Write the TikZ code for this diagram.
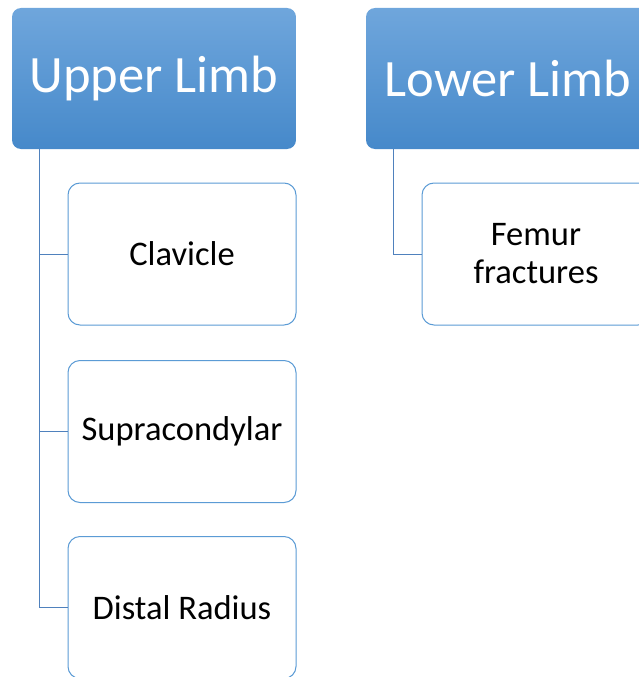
\documentclass[tikz,border=0pt]{standalone}
\usepackage{fontspec}
\setmainfont{Carlito}
\definecolor{hdtop}{RGB}{111,166,220}
\definecolor{hdbot}{RGB}{70,137,202}
\definecolor{lineblue}{RGB}{79,129,189}
\definecolor{boxblue}{RGB}{91,155,213}
\begin{document}
\begin{tikzpicture}[x=1pt,y=-1pt,
  header/.style={rounded corners=9pt, top color=hdtop, bottom color=hdbot, draw=none,
    minimum width=284pt, minimum height=141pt, inner sep=0pt, text=white,
    font=\fontsize{52.5}{60}\selectfont},
  child/.style={rounded corners=12pt, draw=boxblue, line width=1pt, fill=white,
    minimum width=228pt, minimum height=142pt, inner sep=0pt, align=center,
    font=\fontsize{34.5}{38}\selectfont},
  conn/.style={draw=lineblue, line width=1pt}]
\useasboundingbox (0,0) rectangle (639,677);
\clip (0,0) rectangle (639,677);
\node[header] (ul) at (154,78.5) {Upper Limb};
\node[header] (ll) at (508,78.5) {Lower Limb};
\node[child] (clav) at (182,254) {Clavicle};
\node[child] (supra) at (182,431.5) {Supracondylar};
\node[child] (dist) at (182,607.5) {Distal Radius};
\node[child] (fem) at (536,254) {Femur\\fractures};
\coordinate (ulb) at ([xshift=28pt]ul.south west);
\coordinate (llb) at ([xshift=28pt]ll.south west);
\draw[conn] (ulb) |- (clav.west);
\draw[conn] (ulb) |- (supra.west);
\draw[conn] (ulb) |- (dist.west);
\draw[conn] (llb) |- (fem.west);
\end{tikzpicture}
\end{document}
